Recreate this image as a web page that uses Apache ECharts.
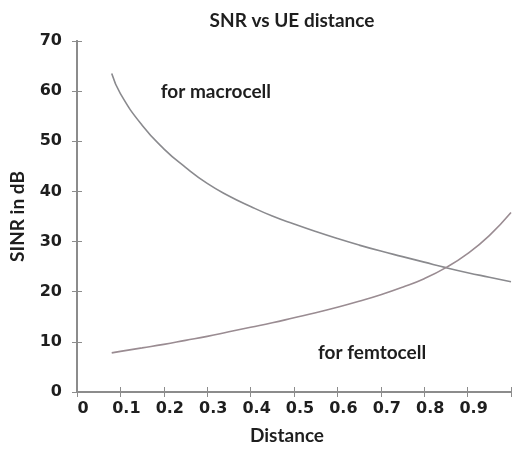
<!DOCTYPE html>
<html>
<head>
<meta charset="utf-8">
<script src="https://cdn.jsdelivr.net/npm/echarts@6/dist/echarts.min.js"></script>
<style>
  html, body { margin: 0; padding: 0; background: #fff; }
  #chart { width: 514px; height: 450px; }
</style>
</head>
<body>
<div id="chart"></div>
<script>
// distance values
var distance = [0.08, 0.1, 0.15, 0.2, 0.25, 0.3, 0.35, 0.4, 0.45, 0.5, 0.55, 0.6, 0.65, 0.7, 0.75, 0.8, 0.85, 0.9, 0.95, 1.0];
var macroSinr = [63.5, 59.5, 53.2, 48.5, 44.8, 41.6, 39.1, 37, 35.1, 33.5, 32, 30.6, 29.3, 28.1, 27, 25.9, 24.8, 23.8, 22.9, 22];
var femtoSinr = [7.8, 8.1, 8.8, 9.5, 10.3, 11.1, 12, 12.9, 13.8, 14.8, 15.8, 16.9, 18.1, 19.4, 20.9, 22.6, 24.8, 27.6, 31.2, 35.8];
var yTicks = [0, 10, 20, 30, 40, 50, 60, 70];

function pairs(xs, ys) {
  return xs.map(function (x, i) { return [x, ys[i]]; });
}

var axisColor = '#8c8c8c';
var textFont = 'Lato';
var chart = echarts.init(document.getElementById('chart'));

chart.setOption({
  animation: false,
  backgroundColor: '#fff',
  title: {
    text: 'SNR vs UE distance',
    left: 287, top: 6, textAlign: 'center',
    textStyle: { fontFamily: textFont, fontWeight: 'bold', fontSize: 19, color: '#1e1e1e' }
  },
  grid: { left: 75, top: 41, width: 444, height: 356 },
  xAxis: [{
    type: 'value', min: 0, max: 1, interval: 0.1,
    name: 'Distance', nameLocation: 'middle', nameGap: 34,
    nameTextStyle: { fontFamily: textFont, fontWeight: 'bold', fontSize: 19, color: '#1e1e1e', padding: [0, 14, 0, 0] },
    axisLine: { lineStyle: { color: axisColor, width: 2 } },
    axisTick: { inside: true, length: 5, lineStyle: { color: axisColor } },
    splitLine: { show: false },
    axisLabel: {
      margin: 9, padding: [0, 0, 0, 12],
      fontFamily: 'DejaVu Sans', fontWeight: 'bold', fontSize: 16, color: '#1e1e1e',
      formatter: function (v) { return v === 1 ? '' : String(Math.round(v * 10) / 10); }
    }
  }, {
    type: 'value', position: 'top', min: 0, max: 1, interval: 0.1,
    axisLine: { lineStyle: { color: axisColor, width: 2 } },
    axisTick: { inside: true, length: 5, lineStyle: { color: axisColor } },
    axisLabel: { show: false }, splitLine: { show: false }
  }],
  yAxis: [{
    type: 'value', min: 0, max: 70, interval: 10,
    name: 'SINR in dB', nameLocation: 'middle', nameGap: 50, nameRotate: 90,
    nameTextStyle: { fontFamily: textFont, fontWeight: 'bold', fontSize: 19, color: '#1e1e1e' },
    axisLine: { show: true, lineStyle: { color: axisColor, width: 2 } },
    axisTick: { show: true, inside: true, length: 5, lineStyle: { color: axisColor } },
    splitLine: { show: false },
    axisLabel: {
      margin: 15, padding: [11, 0, 0, 0],
      fontFamily: 'DejaVu Sans', fontWeight: 'bold', fontSize: 16, color: '#1e1e1e',
      customValues: yTicks
    }
  }, {
    type: 'value', position: 'right', min: 0, max: 70, interval: 10,
    axisLine: { show: true, lineStyle: { color: axisColor, width: 2 } },
    axisTick: { show: true, inside: true, length: 5, lineStyle: { color: axisColor } },
    axisLabel: { show: false }, splitLine: { show: false }
  }],
  series: [{
    name: 'for macrocell', type: 'line', smooth: true, showSymbol: false,
    data: pairs(distance, macroSinr),
    lineStyle: { color: '#8a8a8e', width: 1.6 }
  }, {
    name: 'for femtocell', type: 'line', smooth: true, showSymbol: false,
    data: pairs(distance, femtoSinr),
    lineStyle: { color: '#9a8c92', width: 1.6 }
  }]
});

var macroPos = chart.convertToPixel({ gridIndex: 0 }, [0.32, 59.8]);
var femtoPos = chart.convertToPixel({ gridIndex: 0 }, [0.68, 7.8]);
chart.setOption({
  graphic: [{
    type: 'text', x: macroPos[0], y: macroPos[1],
    style: { text: 'for macrocell', align: 'center', verticalAlign: 'middle',
      font: 'bold 19px Lato', fill: '#1e1e1e' }
  }, {
    type: 'text', x: femtoPos[0], y: femtoPos[1],
    style: { text: 'for femtocell', align: 'center', verticalAlign: 'middle',
      font: 'bold 19px Lato', fill: '#1e1e1e' }
  }]
});
</script>
</body>
</html>
